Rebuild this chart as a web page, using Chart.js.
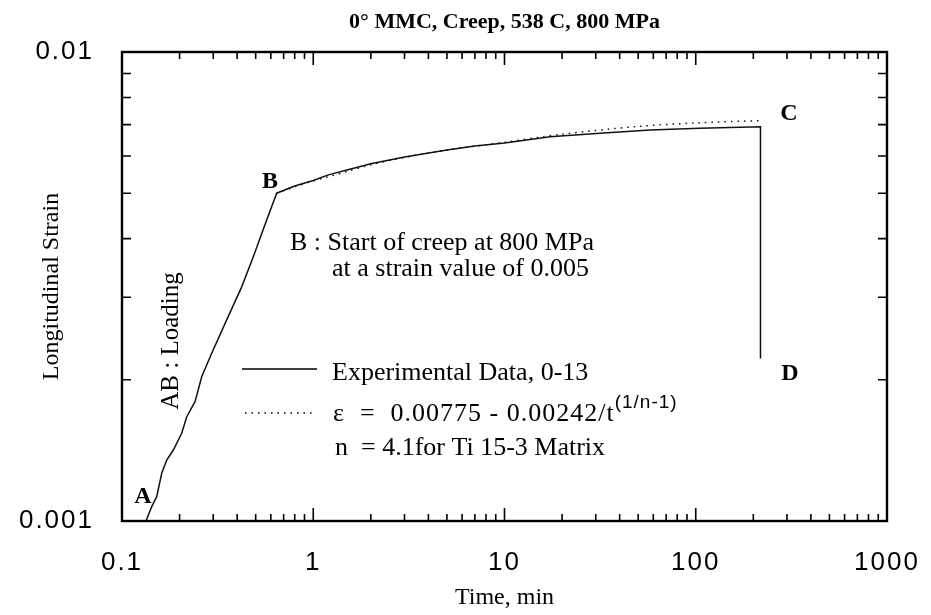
<!DOCTYPE html>
<html>
<head>
<meta charset="utf-8">
<script src="https://cdn.jsdelivr.net/npm/chart.js@4.4.1/dist/chart.umd.min.js"></script>
<style>
  html, body { margin: 0; padding: 0; background: #fff; }
  #wrap { width: 931px; height: 615px; position: relative; }
</style>
</head>
<body>
<div id="wrap"><canvas id="grafico"></canvas></div>
<script>
// Curva sperimentale (tempo in min, deformazione longitudinale)
const expTime = [0.1335, 0.143, 0.1519, 0.1613, 0.1713, 0.1855, 0.2052, 0.218, 0.2409, 0.2611,
                 0.2944, 0.3527, 0.4226, 0.4859, 0.5709, 0.644, 0.8, 1.0, 1.2, 1.5, 2, 3, 5, 7, 10,
                 17.3, 31.6, 57.7, 105, 218, 218];
const expStrain = [0.001, 0.001073, 0.001127, 0.001264, 0.001349, 0.001417, 0.001538, 0.001669,
                   0.001797, 0.002031, 0.002278, 0.002684, 0.003157, 0.003661, 0.004383, 0.005,
                   0.00518, 0.00532, 0.00547, 0.0056, 0.00578, 0.00597, 0.00618, 0.0063, 0.0064,
                   0.0066, 0.00671, 0.00682, 0.00688, 0.00693, 0.00222];

// Modello di creep (linea punteggiata)
const modelTime = [0.644, 0.8, 1, 1.5, 2, 3, 5, 10, 20, 50, 100, 218];
const modelStrain = [0.005, 0.00516, 0.00531, 0.00556, 0.00575, 0.00596, 0.00618, 0.00642,
                     0.00668, 0.00694, 0.00706, 0.00714];

const xTickValues = [0.1, 1, 10, 100, 1000];
const xTickLabels = ['0.1', '1', '10', '100', '1000'];
const yTickValues = [0.001, 0.01];
const yTickLabels = ['0.001', '0.01'];

const serif = '"Liberation Serif", "Times New Roman", serif';
const sans = '"Liberation Sans", Arial, sans-serif';

function punti(xs, ys) {
    return xs.map((x, i) => ({ x: x, y: ys[i] }));
}

function etichetta(valori, testi) {
    return function (v) {
        const i = valori.findIndex(t => Math.abs(t - v) / t < 1e-6);
        return i >= 0 ? testi[i] : '';
    };
}

// cornice, tacche interne e testi
const decorazioni = {
    id: 'decorazioni',
    beforeDraw(chart) {
        chart.ctx.letterSpacing = '2px';
    },
    beforeDatasetsDraw(chart) {
        chart.ctx.letterSpacing = '0px';
    },
    afterDraw(chart) {
        const ctx = chart.ctx;
        const a = chart.chartArea;
        const sx = chart.scales.x, sy = chart.scales.y;
        ctx.save();
        ctx.letterSpacing = '0px';
        ctx.strokeStyle = '#000';

        // tacche asse x (sopra e sotto)
        ctx.lineWidth = 1.6;
        for (let d = -1; d < 3; d++) {
            for (let k = 2; k <= 10; k++) {
                const px = sx.getPixelForValue(k * Math.pow(10, d));
                const len = k === 10 ? 13 : 7;
                ctx.beginPath();
                ctx.moveTo(px, a.bottom); ctx.lineTo(px, a.bottom - len);
                ctx.moveTo(px, a.top); ctx.lineTo(px, a.top + len);
                ctx.stroke();
            }
        }
        // tacche asse y (sinistra e destra)
        for (let k = 2; k <= 9; k++) {
            const py = sy.getPixelForValue(k * 0.001);
            ctx.beginPath();
            ctx.moveTo(a.left, py); ctx.lineTo(a.left + 9, py);
            ctx.moveTo(a.right, py); ctx.lineTo(a.right - 9, py);
            ctx.stroke();
        }
        // cornice
        ctx.lineWidth = 2.4;
        ctx.strokeRect(a.left, a.top, a.right - a.left, a.bottom - a.top);

        ctx.fillStyle = '#000';
        ctx.textBaseline = 'alphabetic';

        // titolo
        ctx.font = 'bold 22px ' + serif;
        ctx.textAlign = 'center';
        ctx.fillText('0° MMC, Creep, 538 C, 800 MPa', (a.left + a.right) / 2, 28);

        // titoli assi
        ctx.font = '24px ' + serif;
        ctx.fillText('Time, min', (a.left + a.right) / 2, 604);
        ctx.save();
        ctx.translate(58, (a.top + a.bottom) / 2);
        ctx.rotate(-Math.PI / 2);
        ctx.fillText('Longitudinal Strain', 0, 0);
        ctx.restore();

        // lettere dei punti
        ctx.font = 'bold 24px ' + serif;
        ctx.fillText('A', 143, 503);
        ctx.fillText('B', 270, 188);
        ctx.fillText('C', 789, 120);
        ctx.fillText('D', 790, 380);

        // tratto di carico
        ctx.save();
        ctx.translate(178, 341);
        ctx.rotate(-Math.PI / 2);
        ctx.font = '25px ' + serif;
        ctx.fillText('AB : Loading', 0, 0);
        ctx.restore();

        // note
        ctx.textAlign = 'left';
        ctx.font = '26px ' + serif;
        ctx.fillText('B : Start of creep at 800 MPa', 290, 250);
        ctx.fillText('at a strain value of 0.005', 332, 276);

        // legenda
        ctx.lineWidth = 1.4;
        ctx.beginPath();
        ctx.moveTo(242, 369); ctx.lineTo(317, 369);
        ctx.stroke();
        ctx.setLineDash([1.5, 5]);
        ctx.beginPath();
        ctx.moveTo(245, 413); ctx.lineTo(313, 413);
        ctx.stroke();
        ctx.setLineDash([]);

        ctx.fillText('Experimental Data, 0-13', 332, 380);
        ctx.letterSpacing = '1px';
        const eq = 'ε  =  0.00775 - 0.00242/t';
        ctx.fillText(eq, 333, 421);
        const w = ctx.measureText(eq).width;
        ctx.font = '19px ' + sans;
        ctx.fillText('(1/n-1)', 333 + w, 408);
        ctx.letterSpacing = '0px';
        ctx.font = '26px ' + serif;
        ctx.fillText('n  = 4.1for Ti 15-3 Matrix', 335, 455);
        ctx.restore();
    }
};

new Chart(document.getElementById('grafico'), {
    type: 'scatter',
    data: {
        datasets: [{
            label: 'Experimental Data, 0-13',
            data: punti(expTime, expStrain),
            showLine: true,
            borderColor: '#111',
            borderWidth: 1.5,
            pointRadius: 0,
            tension: 0
        }, {
            label: 'Model',
            data: punti(modelTime, modelStrain),
            showLine: true,
            borderColor: '#111',
            borderWidth: 1.5,
            borderDash: [1.5, 5],
            pointRadius: 0,
            tension: 0.3
        }]
    },
    options: {
        responsive: true,
        maintainAspectRatio: false,
        animation: false,
        layout: { padding: { top: 52, right: 44, left: 0, bottom: 0 } },
        plugins: { legend: { display: false }, tooltip: { enabled: false } },
        scales: {
            x: {
                type: 'logarithmic',
                min: 0.1, max: 1000,
                grid: { display: false, drawTicks: false },
                border: { display: false },
                ticks: {
                    autoSkip: false, maxRotation: 0, padding: 26, color: '#000',
                    font: { family: sans, size: 26 },
                    callback: etichetta(xTickValues, xTickLabels)
                },
                afterFit(s) { s.height = 94; s.paddingLeft = 0; s.paddingRight = 0; }
            },
            y: {
                type: 'logarithmic',
                min: 0.001, max: 0.01,
                grid: { display: false, drawTicks: false },
                border: { display: false },
                ticks: {
                    autoSkip: false, padding: 28, color: '#000',
                    font: { family: sans, size: 26 },
                    callback: etichetta(yTickValues, yTickLabels)
                },
                afterFit(s) { s.width = 122; s.paddingTop = 0; s.paddingBottom = 0; }
            }
        }
    },
    plugins: [decorazioni]
});
</script>
</body>
</html>
